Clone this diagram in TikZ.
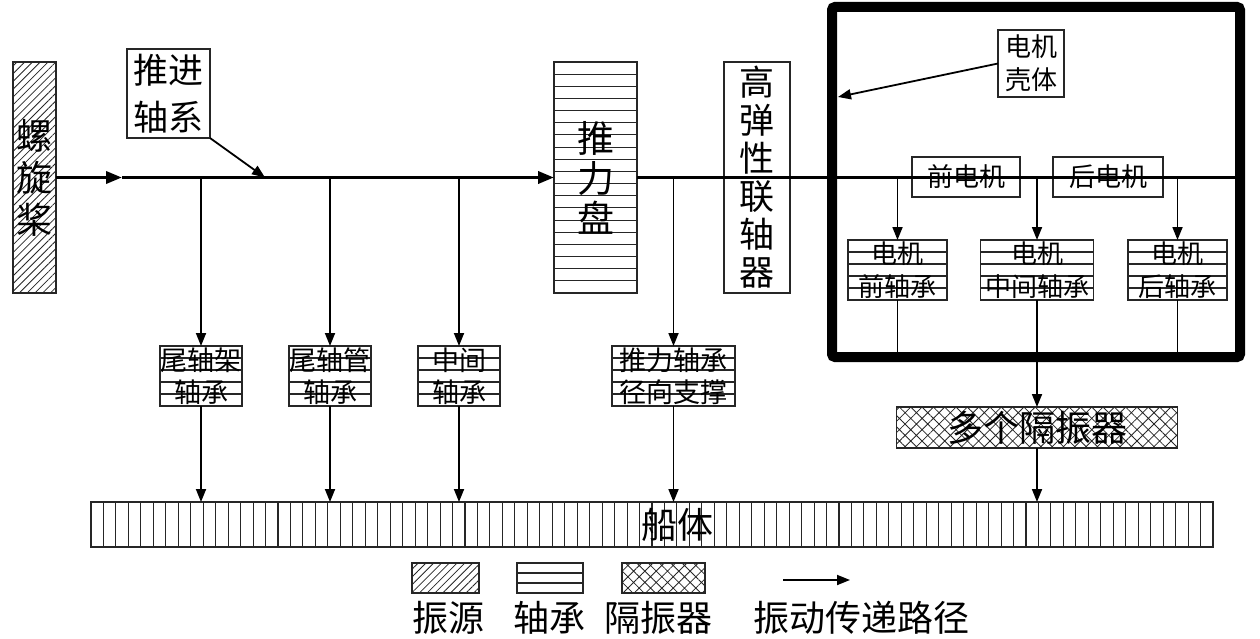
\documentclass[tikz,border=0pt]{standalone}
\usepackage{fontspec}
\newfontfamily\cjk{Noto Sans CJK SC}
\setmainfont{Noto Sans CJK SC}
\usetikzlibrary{patterns.meta,arrows.meta,calc}
\begin{document}
\begin{tikzpicture}[x=1pt,y=-1pt,
  every node/.style={font=\cjk, inner sep=0pt, outer sep=0pt, align=center},
  bx/.style={draw=black!85, line width=1.4pt},
  hatchbox/.style={bx, pattern={Lines[angle=45,distance=5.5pt,line width=0.8pt]}, pattern color=black!85},
  xbox/.style={bx, pattern={Hatch[angle=45,distance=8pt,line width=0.8pt]}, pattern color=black!85},
  hstripes/.style={path picture={
     \foreach \k in {1,...,#1}{
       \draw[line width=1.1pt, black!85] ($(path picture bounding box.north west)!{\k/(#1+1)}!(path picture bounding box.south west)$) -- ++(2000,0);
     }}},
  vstripes/.style={path picture={
     \foreach \k in {1,...,#1}{
       \draw[line width=1.1pt, black!85] ($(path picture bounding box.north west)!{\k/(#1+1)}!(path picture bounding box.north east)$) -- ++(0,2000);
     }}},
  conn/.style={line width=1.8pt, -{Triangle[length=13pt,width=10pt]}},
  plainln/.style={line width=1.8pt},
  shaft/.style={line width=3.5pt},
  f27/.style={font=\cjk\fontsize{27}{32}\selectfont},
  f26/.style={font=\cjk\fontsize{26}{33}\selectfont},
  f36/.style={font=\cjk\fontsize{36}{40}\selectfont}
]
\useasboundingbox (0,0) rectangle (1260,639);

% propeller
\node[hatchbox, minimum width=43pt, minimum height=231pt, font=\cjk\fontsize{36}{42}\selectfont] (prop) at (34.5,177.5) {螺\\旋\\桨};

% propulsion shafting label
\node[bx, minimum width=83pt, minimum height=89pt, font=\cjk\fontsize{35}{47}\selectfont] (tj) at (168.5,93.5) {推进\\轴系};

% thrust disc
\node[bx, hstripes=18, minimum width=83pt, minimum height=231pt, font=\cjk\fontsize{37}{40}\selectfont] (disc) at (595.5,177.5) {推\\力\\盘};

% coupling
\node[bx, minimum width=66pt, minimum height=231pt, font=\cjk\fontsize{35}{38}\selectfont] (coup) at (757,177.5) {高\\弹\\性\\联\\轴\\器};

% motor housing
\node[draw=black, line width=10pt, rounded corners=3pt, minimum width=408pt, minimum height=350pt] (house) at (1036,182) {};
\node[bx, f26, minimum width=66pt, minimum height=67pt] (kt) at (1031,63.5) {电机\\壳体};
\node[bx, f26, minimum width=108pt, minimum height=40pt] (qd) at (966,177) {前电机};
\node[bx, f26, minimum width=110pt, minimum height=40pt] (hd) at (1108,177) {后电机};

% motor bearings
\node[bx, hstripes=4, f26, minimum width=99pt, minimum height=60pt] (M1) at (897.5,270) {电机\\前轴承};
\node[bx, hstripes=4, f26, minimum width=113pt, minimum height=60pt] (M2) at (1037,270) {电机\\中间轴承};
\node[bx, hstripes=4, f26, minimum width=99pt, minimum height=60pt] (M3) at (1177.5,270) {电机\\后轴承};

% shaft bearings
\node[bx, hstripes=4, f27, minimum width=82pt, minimum height=60pt] (B1) at (201,376) {尾轴架\\轴承};
\node[bx, hstripes=4, f27, minimum width=82pt, minimum height=60pt] (B2) at (330,376) {尾轴管\\轴承};
\node[bx, hstripes=4, f27, minimum width=82pt, minimum height=60pt] (B3) at (459,376) {中间\\轴承};
\node[bx, hstripes=4, f27, minimum width=123pt, minimum height=60pt] (B4) at (673.5,376) {推力轴承\\径向支撑};

% isolators
\node[xbox, f36, minimum width=281pt, minimum height=41pt] (iso) at (1037,427.5) {多个隔振器};

% hull
\node[bx, vstripes=89, minimum width=1122pt, minimum height=45pt] (hull) at (652,524.5) {};
\node[f36] (hulltxt) at (677,524.5) {船体};

% shaft line
\coordinate (m1) at (122,177.5);
\coordinate (tjend) at (265,177.5);
\draw[shaft, -{Triangle[length=16pt,width=12pt]}] (prop.east) -- (m1);
\draw[shaft, -{Triangle[length=16pt,width=12pt]}] (m1) -- (disc.west);
\draw[shaft] (disc.east) -- (house.east |- disc.east);

% label arrows
\draw[conn] (tj.south east) -- (tjend);
\coordinate (ktend) at (838,97);
\draw[conn] (kt.west) -- (ktend);

% branches to bearings
\foreach \b in {B1,B2,B3,B4}{
  \draw[conn] (\b.north |- disc.west) -- (\b.north);
  \draw[conn] (\b.south) -- (\b.south |- hull.north);
}
\foreach \b in {M1,M2,M3}{
  \draw[conn] (\b.north |- disc.west) -- (\b.north);
  \draw[plainln] (\b.south) -- (\b.south |- house.south);
}
\draw[conn] (iso.north |- house.south) -- (iso.north);
\draw[conn] (iso.south) -- (iso.south |- hull.north);

% legend
\node[hatchbox, minimum width=67pt, minimum height=30pt] (lg1) at (445.5,578) {};
\node[bx, hstripes=2, minimum width=66pt, minimum height=30pt] (lg2) at (550,578) {};
\node[xbox, minimum width=83pt, minimum height=30pt] (lg3) at (663.5,578) {};
\coordinate (la1) at (783,580);
\coordinate (la2) at (850,580);
\draw[conn] (la1) -- (la2);
\node[f36] (t1) at (448,618) {振源};
\node[f36] (t2) at (549,618) {轴承};
\node[f36] (t3) at (658,618) {隔振器};
\node[f36] (t4) at (861,618) {振动传递路径};
\end{tikzpicture}
\end{document}
